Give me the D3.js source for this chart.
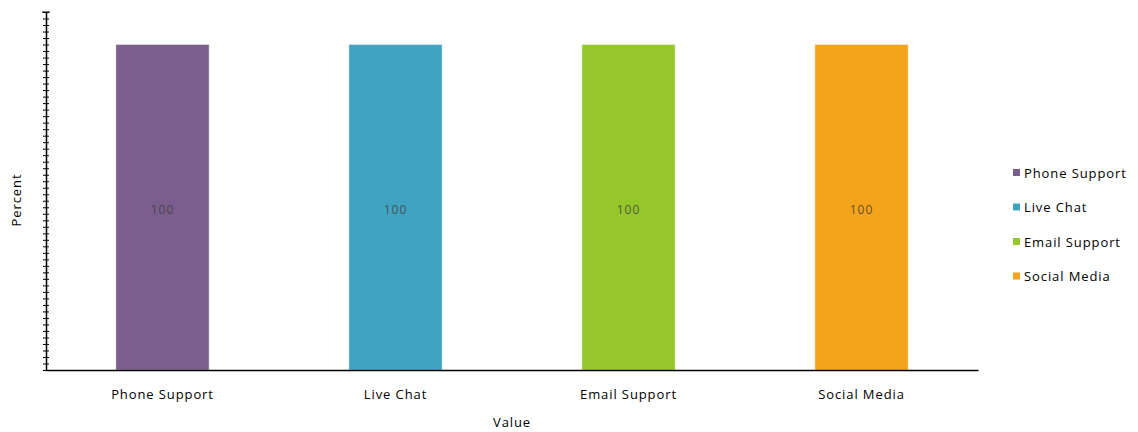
<!DOCTYPE html>
<html lang="en">
<head>
    <meta charset="UTF-8">
    <title>Support Channels</title>
    <style>
        body { margin: 0; background: #fff; }
        text { font-family: "Open Sans", "Noto Sans", sans-serif; }
    </style>
</head>
<body>
    <svg id="chart" width="1138" height="432"></svg>
    <script src="https://d3js.org/d3.v7.min.js"></script>
    <script>
        var categories = ["Phone Support", "Live Chat", "Email Support", "Social Media"];
        var values = [100, 100, 100, 100];
        var colors = ["#7b5e8e", "#41a3c2", "#95c72a", "#f4a41b"];
        var yTicks = d3.range(0, 111, 2);

        var svg = d3.select("#chart");

        var x = d3.scaleBand()
                  .domain(categories)
                  .range([46, 978])
                  .paddingInner(0.6)
                  .paddingOuter(0.3);

        var y = d3.scaleLinear()
                  .domain([0, 110])
                  .range([370, 12]);

        // bars
        svg.selectAll(".bar")
           .data(categories)
           .enter().append("rect")
           .attr("class", "bar")
           .attr("x", function(d) { return x(d); })
           .attr("width", x.bandwidth())
           .attr("y", function(d, i) { return y(values[i]); })
           .attr("height", function(d, i) { return y(0) - y(values[i]); })
           .attr("fill", function(d, i) { return colors[i]; })
           .attr("stroke", "rgba(255,255,255,0.35)")
           .attr("stroke-width", 1);

        // value labels
        svg.selectAll(".val")
           .data(categories)
           .enter().append("text")
           .attr("x", function(d) { return x(d) + x.bandwidth() / 2; })
           .attr("y", function(d, i) { return (y(values[i]) + y(0)) / 2 + 3; })
           .attr("dy", "0.35em")
           .attr("text-anchor", "middle")
           .style("font-size", "12px")
           .style("letter-spacing", "1px")
           .style("fill", "#404040")
           .style("opacity", 0.8)
           .text(function(d, i) { return values[i]; });

        // y axis, ticks only
        var yAxis = svg.append("g")
           .attr("transform", "translate(46,0)")
           .call(d3.axisLeft(y).tickValues(yTicks).tickSize(3).tickSizeOuter(0).tickFormat(""));
        yAxis.selectAll(".tick line").attr("x2", 3).attr("x1", -3).attr("stroke", "#000");
        yAxis.select(".domain").attr("stroke", "#000").attr("stroke-width", 1.5);
        yAxis.append("line").attr("x1", -4).attr("x2", 4).attr("y1", y(110)).attr("y2", y(110)).attr("stroke", "#000");

        // x axis
        var xAxis = svg.append("g")
           .attr("transform", "translate(0,370)")
           .call(d3.axisBottom(x).tickSize(0).tickSizeOuter(0).tickPadding(20));
        xAxis.select(".domain").attr("stroke", "#000").attr("stroke-width", 1.5);
        xAxis.selectAll("text")
             .style("font-family", "\"Open Sans\", sans-serif")
             .style("font-size", "13px")
             .style("letter-spacing", "0.9px")
             .style("fill", "#000");

        // axis titles
        svg.append("text")
           .attr("x", 512)
           .attr("y", 427)
           .attr("text-anchor", "middle")
           .style("font-size", "13px")
           .style("letter-spacing", "0.9px")
           .text("Value");

        svg.append("text")
           .attr("transform", "translate(21,200) rotate(-90)")
           .attr("text-anchor", "middle")
           .style("font-size", "13px")
           .style("letter-spacing", "0.9px")
           .text("Percent");

        // legend
        var legend = svg.selectAll(".legend")
           .data(categories)
           .enter().append("g")
           .attr("class", "legend")
           .attr("transform", function(d, i) { return "translate(1013," + (173 + i * 34.5) + ")"; });

        legend.append("rect")
              .attr("x", 0)
              .attr("y", -4)
              .attr("width", 7)
              .attr("height", 7)
              .attr("fill", function(d, i) { return colors[i]; });

        legend.append("text")
              .attr("x", 11)
              .attr("y", 0)
              .attr("dy", "0.35em")
              .style("font-size", "13px")
              .style("letter-spacing", "0.9px")
              .style("fill", "#000")
              .text(function(d) { return d; });
    </script>
</body>
</html>
